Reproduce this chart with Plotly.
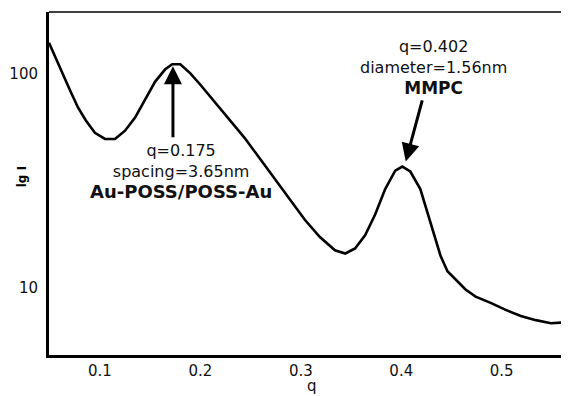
import math
import plotly.graph_objects as go

q = [0.0493, 0.055, 0.062, 0.070, 0.078, 0.086, 0.095, 0.105, 0.115, 0.125, 0.135, 0.145,
     0.155, 0.165, 0.172, 0.180, 0.190, 0.200, 0.2144, 0.229, 0.244, 0.259, 0.274, 0.289,
     0.304, 0.319, 0.334, 0.3443, 0.354, 0.364, 0.374, 0.384, 0.394, 0.401, 0.409, 0.419,
     0.426, 0.431, 0.439, 0.446, 0.454, 0.464, 0.474, 0.489, 0.504, 0.519, 0.534, 0.549, 0.567]
intensity = [139, 120.6, 102, 83.8, 69.5, 60.3, 52.8, 49.4, 49.4, 54, 62.2, 75.2,
             91.6, 104.5, 110.4, 110.4, 100, 88.5, 73.5, 60.3, 50, 40.1, 32.2, 25.8,
             20.7, 17.2, 14.9, 14.4, 15.2, 17.5, 21.9, 28.8, 35.1, 36.7, 34.8, 28.8,
             22.3, 18.5, 14.1, 11.9, 10.9, 9.78, 9.05, 8.47, 7.85, 7.35, 7.03, 6.80, 6.88]

x_ticks = [0.1, 0.2, 0.3, 0.4, 0.5]
x_tick_labels = ["0.1", "0.2", "0.3", "0.4", "0.5"]
y_ticks = [10, 100]
y_tick_labels = ["10", "100"]

arrow1_head = (0.1727, 108)
arrow2_head = (0.4045, 38.8)
label1_pos = (0.1811, 0.534)
label2_pos = (0.4318, 0.839)
label1 = ["q=0.175", "spacing=3.65nm", "<b><span style='font-size:18px'>Au-POSS/POSS-Au</span></b>"]
label2 = ["q=0.402", "diameter=1.56nm", "<b><span style='font-size:17px'>MMPC</span></b>"]

FONT = "DejaVu Sans, Verdana, sans-serif"

fig = go.Figure()
fig.add_trace(go.Scatter(x=q, y=intensity, mode="lines",
                         line=dict(color="black", width=2.6), showlegend=False,
                         hoverinfo="skip"))

# page body has an 8px margin, so the figure is sized/offset to compensate
fig.update_layout(
    width=561, height=388,
    margin=dict(l=41, r=0, t=4, b=41),
    paper_bgcolor="white", plot_bgcolor="white",
    font=dict(family=FONT, size=15, color="#111"),
    xaxis=dict(range=[0.0493, 0.567], tickvals=x_ticks, ticktext=x_tick_labels,
               showgrid=False, zeroline=False, showline=True, linecolor="black",
               linewidth=3, ticks="", ticklabelstandoff=0),
    yaxis=dict(type="log", range=[0.684, 2.287], tickvals=y_ticks, ticktext=y_tick_labels,
               showgrid=False, zeroline=False, showline=True, linecolor="black",
               linewidth=3, ticks="", ticklabelstandoff=5),
)

# top border
fig.add_shape(type="line", xref="paper", yref="paper", x0=0, x1=1, y0=1, y1=1,
              line=dict(color="black", width=1.5))

# arrows (log axis -> log10 positions)
fig.add_annotation(x=arrow1_head[0], y=math.log10(arrow1_head[1]), xref="x", yref="y",
                   ax=0, ay=73, text=" ", font=dict(size=1),
                   showarrow=True, arrowhead=2, arrowsize=1.2,
                   arrowwidth=3, arrowcolor="black", standoff=0, startstandoff=0)
fig.add_annotation(x=arrow2_head[0], y=math.log10(arrow2_head[1]), xref="x", yref="y",
                   ax=17, ay=-63, text=" ", font=dict(size=1),
                   showarrow=True, arrowhead=2, arrowsize=1.2,
                   arrowwidth=3, arrowcolor="black", standoff=0, startstandoff=0)

# labels
fig.add_annotation(x=label1_pos[0], y=label1_pos[1], xref="x", yref="paper",
                   text="<br>".join(label1), font=dict(size=16, family=FONT, color="#111"),
                   align="center", showarrow=False, yanchor="middle")
fig.add_annotation(x=label2_pos[0], y=label2_pos[1], xref="x", yref="paper",
                   text="<br>".join(label2), font=dict(size=16, family=FONT, color="#111"),
                   align="center", showarrow=False, yanchor="middle")

# axis titles
fig.add_annotation(x=-0.07, y=0.52, xref="paper", yref="paper", text="<b>lg I</b>",
                   textangle=-90, showarrow=False, font=dict(size=12, family=FONT, color="black"))
fig.add_annotation(x=0.506, y=-0.122, xref="paper", yref="paper", text="q",
                   showarrow=False, font=dict(size=15, family=FONT, color="#111"))

fig.write_html("out.html")
